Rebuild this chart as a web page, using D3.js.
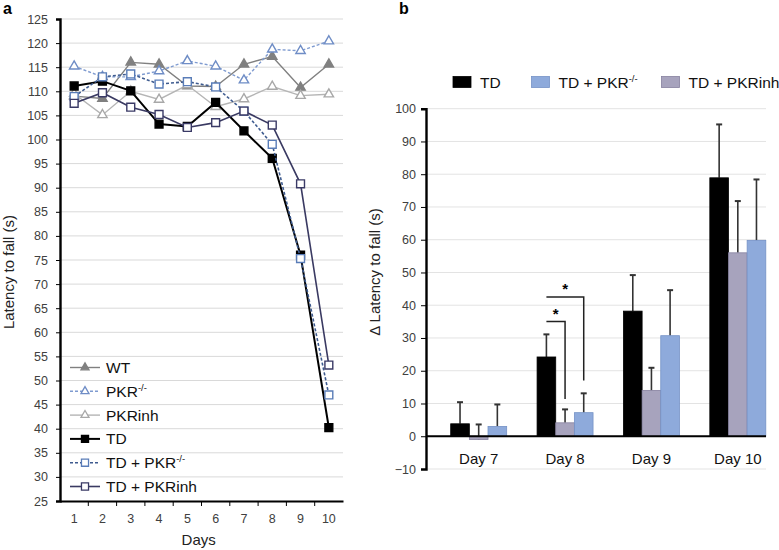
<!DOCTYPE html>
<html>
<head>
<meta charset="utf-8">
<script src="https://cdn.jsdelivr.net/npm/d3@7"></script>
<style>
  body { margin: 0; background: #fff; }
  text { font-family: "Liberation Sans", Arial, sans-serif; }
</style>
</head>
<body>
<div id="container"></div>
<script>
// panel a: latency per day
let days = [1, 2, 3, 4, 5, 6, 7, 8, 9, 10]
let wt       = [109.0, 108.5, 116.0, 115.6, 111.1, 111.0, 115.6, 117.2, 110.8, 115.6]
let pkrKo    = [115.2, 113.0, 113.0, 114.2, 116.3, 115.2, 112.3, 118.7, 118.4, 120.4]
let pkrInh   = [109.5, 105.1, 110.0, 108.3, 111.3, 106.8, 108.4, 111.0, 109.1, 109.4]
let td       = [111.1, 112.1, 110.1, 103.2, 102.7, 107.7, 101.8, 96.1, 76.0, 40.2]
let tdPkrKo  = [108.9, 113.0, 113.6, 111.5, 112.0, 110.9, 105.9, 99.0, 75.3, 47.0]
let tdPkrInh = [107.5, 109.7, 106.7, 105.2, 102.5, 103.5, 105.9, 103.0, 90.8, 53.2]
let yTicksA = d3.range(25, 126, 5)

// panel b: delta latency
let dayLabels = ["Day 7", "Day 8", "Day 9", "Day 10"]
let barGroups = ["TD", "TD + PKRinh", "TD + PKR-/-"]
let tdDelta  = [3.8, 24.2, 38.2, 78.9]
let tdErr    = [6.6, 6.9, 11.0, 16.3]
let inhDelta = [-1.0, 4.1, 14.0, 56.0]
let inhErr   = [4.6, 4.1, 6.9, 15.8]
let koDelta  = [3.0, 7.2, 30.7, 59.8]
let koErr    = [6.7, 5.9, 13.9, 18.6]
let yTicksB = d3.range(-10, 101, 10)
// day 8 significance brackets: [to group, bracket level, drop end]
let sigBrackets = [["TD + PKRinh", 35, 11.4], ["TD + PKR-/-", 42.5, 17]]

let width = 779, height = 550

let svg = d3.select("#container")
    .append("svg")
    .attr("width", width)
    .attr("height", height)

// ---------- panel a ----------
let mA = {left: 60, right: 343, top: 19, bottom: 501}

let xA = d3.scaleBand()
    .domain(days)
    .range([mA.left, mA.right])

let yA = d3.scaleLinear()
    .domain([25, 125])
    .range([mA.bottom, mA.top])

let gA = svg.append("g")

gA.append("g")
    .selectAll("line")
    .data(yTicksA.filter(d => d > 25))
    .join("line")
        .attr("x1", mA.left).attr("x2", mA.right)
        .attr("y1", d => yA(d)).attr("y2", d => yA(d))
        .attr("stroke", "#d9d9d9")

gA.append("g")
    .attr("transform", `translate(${mA.left},0)`)
    .call(d3.axisLeft(yA).tickValues(yTicksA).tickSize(4).tickPadding(8))
    .call(g => g.select(".domain").attr("stroke", "#000").attr("stroke-width", 2.4))
    .call(g => g.selectAll(".tick line").attr("stroke", "#000"))
    .call(g => g.selectAll(".tick text").attr("font-size", 12.5).attr("fill", "#404040")
        .attr("font-family", "Liberation Sans, Arial, sans-serif"))

gA.append("g")
    .attr("transform", `translate(0,${mA.bottom})`)
    .call(d3.axisBottom(xA).tickSize(0).tickPadding(13))
    .call(g => g.select(".domain").attr("stroke", "#000").attr("stroke-width", 2.2))
    .call(g => g.selectAll(".tick text").attr("font-size", 12.5).attr("fill", "#404040")
        .attr("font-family", "Liberation Sans, Arial, sans-serif"))

// category boundary ticks
gA.append("g")
    .selectAll("line")
    .data(days.slice(1))
    .join("line")
        .attr("x1", d => xA(d))
        .attr("x2", d => xA(d))
        .attr("y1", mA.bottom).attr("y2", mA.bottom + 5)
        .attr("stroke", "#000")

gA.append("text")
    .attr("transform", `translate(14,${(mA.top + mA.bottom) / 2 + 12}) rotate(-90)`)
    .attr("text-anchor", "middle")
    .attr("font-size", 15)
    .attr("fill", "#222")
    .text("Latency to fall (s)")

gA.append("text")
    .attr("x", xA(5) + xA.bandwidth() * 0.9)
    .attr("y", 545)
    .attr("text-anchor", "middle")
    .attr("font-size", 15)
    .attr("fill", "#222")
    .text("Days")

let seriesA = [
    {name: "WT", values: wt, color: "#808080", dash: null, width: 1.4, marker: "tri", fill: "#808080", mstroke: "#808080"},
    {name: "PKR", sup: "-/-", values: pkrKo, color: "#7f9bd0", dash: "3,2", width: 1.4, marker: "tri", fill: "#fff", mstroke: "#6f8dc6"},
    {name: "PKRinh", values: pkrInh, color: "#b5b5b5", dash: null, width: 1.4, marker: "tri", fill: "#fff", mstroke: "#a8a8a8"},
    {name: "TD", values: td, color: "#000", dash: null, width: 2, marker: "sq", fill: "#000", mstroke: "#000"},
    {name: "TD + PKR", sup: "-/-", values: tdPkrKo, color: "#3e5b8f", dash: "3,2", width: 1.6, marker: "sq", fill: "#fff", mstroke: "#5a7db8"},
    {name: "TD + PKRinh", values: tdPkrInh, color: "#3a3a62", dash: null, width: 1.6, marker: "sq", fill: "#fff", mstroke: "#3a3a66"}
]

let tri = d3.symbol().type(d3.symbolTriangle).size(38)
let sq = d3.symbol().type(d3.symbolSquare).size(62)

let line = d3.line()
    .x((d, i) => xA(days[i]) + xA.bandwidth() / 2)
    .y(d => yA(d))

seriesA.forEach(s => {
    let g = gA.append("g")
    g.append("path")
        .attr("d", line(s.values))
        .attr("fill", "none")
        .attr("stroke", s.color)
        .attr("stroke-width", s.width)
        .attr("stroke-dasharray", s.dash)
    g.selectAll("path.mk")
        .data(s.values)
        .join("path")
            .attr("class", "mk")
            .attr("transform", (d, i) => `translate(${xA(days[i]) + xA.bandwidth() / 2},${yA(d)})`)
            .attr("d", s.marker == "tri" ? tri : sq)
            .attr("fill", s.fill)
            .attr("stroke", s.mstroke)
            .attr("stroke-width", 1.4)
})

// legend a
let legA = gA.append("g")
    .selectAll("g")
    .data(seriesA)
    .join("g")
        .attr("transform", (d, i) => `translate(70,${367.5 + i * 23.8})`)

legA.append("line")
    .attr("x1", 0).attr("x2", 30)
    .attr("stroke", d => d.color)
    .attr("stroke-width", d => d.width)
    .attr("stroke-dasharray", d => d.dash)
legA.append("path")
    .attr("transform", "translate(15,0)")
    .attr("d", d => d.marker == "tri" ? d3.symbol().type(d3.symbolTriangle).size(28)() : d3.symbol().type(d3.symbolSquare).size(50)())
    .attr("fill", d => d.fill)
    .attr("stroke", d => d.mstroke)
    .attr("stroke-width", 1.3)
let legAText = legA.append("text")
    .attr("x", 36)
    .attr("y", 5.5)
    .attr("font-size", 15.5)
    .attr("fill", "#111")
    .text(d => d.name)
legAText.filter(d => d.sup)
    .append("tspan")
    .attr("dy", -6)
    .attr("font-size", 9.5)
    .text(d => d.sup)

// ---------- panel b ----------
let mB = {left: 426, right: 766, top: 108.7, bottom: 469}

let x0 = d3.scaleBand()
    .domain(dayLabels)
    .range([435.5, 781])
    .paddingInner(0.352)
    .paddingOuter(0.176)

let x1 = d3.scaleBand()
    .domain(barGroups)
    .range([0, x0.bandwidth()])

let yB = d3.scaleLinear()
    .domain([-10, 100])
    .range([mB.bottom, mB.top])

let gB = svg.append("g")

gB.append("g")
    .selectAll("line")
    .data(yTicksB)
    .join("line")
        .attr("x1", mB.left).attr("x2", mB.right)
        .attr("y1", d => yB(d)).attr("y2", d => yB(d))
        .attr("stroke", "#e3e3e3")

gB.append("g")
    .attr("transform", `translate(${mB.left},0)`)
    .call(d3.axisLeft(yB).tickValues(yTicksB).tickSize(5).tickPadding(5))
    .call(g => g.select(".domain").attr("stroke", "#000").attr("stroke-width", 2.4))
    .call(g => g.selectAll(".tick line").attr("stroke", "#000"))
    .call(g => g.selectAll(".tick text").attr("font-size", 12.5).attr("fill", "#404040")
        .attr("font-family", "Liberation Sans, Arial, sans-serif"))

gB.append("text")
    .attr("transform", `translate(380,${272}) rotate(-90)`)
    .attr("text-anchor", "middle")
    .attr("font-size", 15)
    .attr("fill", "#222")
    .text("\u0394  Latency to fall (s)")

let barColors = {"TD": "#000", "TD + PKRinh": "#a7a3bd", "TD + PKR-/-": "#8eaadb"}
let barStrokes = {"TD": "#000", "TD + PKRinh": "#86819f", "TD + PKR-/-": "#7592c6"}

let barData = []
dayLabels.forEach((day, i) => {
    barData.push({day: day, group: "TD", value: tdDelta[i], err: tdErr[i]})
    barData.push({day: day, group: "TD + PKRinh", value: inhDelta[i], err: inhErr[i]})
    barData.push({day: day, group: "TD + PKR-/-", value: koDelta[i], err: koErr[i]})
})

let bx = d => x0(d.day) + x1(d.group)

// error bars first (drawn behind bars)
let eb = gB.append("g")
    .attr("stroke", "#333")
    .attr("stroke-width", 1.6)
    .selectAll("g")
    .data(barData)
    .join("g")
eb.append("line")
    .attr("x1", d => bx(d) + x1.bandwidth() / 2)
    .attr("x2", d => bx(d) + x1.bandwidth() / 2)
    .attr("y1", d => yB(d.value))
    .attr("y2", d => yB(d.value + d.err))
eb.append("line")
    .attr("x1", d => bx(d) + x1.bandwidth() / 2 - 3)
    .attr("x2", d => bx(d) + x1.bandwidth() / 2 + 3)
    .attr("y1", d => yB(d.value + d.err))
    .attr("y2", d => yB(d.value + d.err))
    .attr("stroke-width", 2)

gB.append("g")
    .selectAll("rect")
    .data(barData)
    .join("rect")
        .attr("x", d => bx(d))
        .attr("y", d => yB(Math.max(0, d.value)))
        .attr("width", x1.bandwidth())
        .attr("height", d => Math.abs(yB(d.value) - yB(0)))
        .attr("fill", d => barColors[d.group])
        .attr("stroke", d => barStrokes[d.group])
        .attr("stroke-width", 0.8)

// zero axis line
gB.append("line")
    .attr("x1", mB.left).attr("x2", mB.right)
    .attr("y1", yB(0)).attr("y2", yB(0))
    .attr("stroke", "#000")
    .attr("stroke-width", 2)

gB.append("g")
    .selectAll("text")
    .data(dayLabels)
    .join("text")
        .attr("x", d => x0(d) + x0.bandwidth() / 2)
        .attr("y", yB(0) + 28)
        .attr("text-anchor", "middle")
        .attr("font-size", 15)
        .attr("fill", "#111")
        .text(d => d.replace(" ", "\u00a0"))

// significance brackets on day 8
let bStart = x0("Day 8") + x1("TD") + x1.bandwidth() / 2
sigBrackets.forEach(b => {
    let bEnd = x0("Day 8") + x1(b[0]) + x1.bandwidth() / 2
    gB.append("path")
        .attr("d", `M${bStart},${yB(b[1])}H${bEnd}V${yB(b[2])}`)
        .attr("fill", "none")
        .attr("stroke", "#222")
        .attr("stroke-width", 1.5)
    gB.append("text")
        .attr("x", (bStart + bEnd) / 2)
        .attr("y", yB(b[1]) - 3)
        .attr("text-anchor", "middle")
        .attr("font-size", 15)
        .attr("font-weight", "bold")
        .text("*")
})

// legend b
let legB = [
    {name: "TD", key: "TD", x: 453},
    {name: "TD + PKR", sup: "-/-", key: "TD + PKR-/-", x: 531.5},
    {name: "TD + PKRinh", key: "TD + PKRinh", x: 661.5}
]
let lb = gB.append("g")
    .selectAll("g")
    .data(legB)
    .join("g")
        .attr("transform", d => `translate(${d.x},82)`)
lb.append("rect")
    .attr("x", 0).attr("y", -5.5)
    .attr("width", 18).attr("height", 11)
    .attr("fill", d => barColors[d.key])
    .attr("stroke", d => barStrokes[d.key])
    .attr("stroke-width", 0.8)
let lbText = lb.append("text")
    .attr("x", 27)
    .attr("y", 5.5)
    .attr("font-size", 15.5)
    .attr("fill", "#111")
    .text(d => d.name)
lbText.filter(d => d.sup)
    .append("tspan")
    .attr("dy", -6)
    .attr("font-size", 9.5)
    .text(d => d.sup)

// panel letters
svg.append("text").attr("x", 3).attr("y", 14).attr("font-size", 16).attr("font-weight", "bold").text("a")
svg.append("text").attr("x", 399).attr("y", 14).attr("font-size", 16).attr("font-weight", "bold").text("b")
</script>
</body>
</html>
